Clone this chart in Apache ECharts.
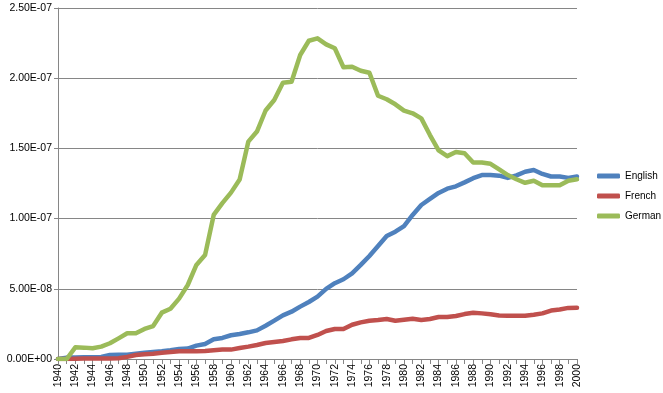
<!DOCTYPE html>
<html>
<head>
<meta charset="utf-8">
<script src="https://cdn.jsdelivr.net/npm/echarts@6/dist/echarts.min.js"></script>
<style>
  html, body { margin: 0; padding: 0; background: #fff; }
  #chart { width: 663px; height: 393px; }
</style>
</head>
<body>
<div id="chart"></div>
<script>
// 数据 (values in units of 1E-8)
var years = [];
for (var y = 1940; y <= 2000; y++) { years.push(String(y)); }

var english = [
    0, 0.1, 0.1, 0.12, 0.12, 0.14, 0.28, 0.3, 0.3, 0.38,
    0.45, 0.5, 0.55, 0.62, 0.71, 0.74, 0.95, 1.07, 1.4, 1.5,
    1.69, 1.78, 1.9, 2.04, 2.37, 2.73, 3.11, 3.37, 3.73, 4.06,
    4.44, 4.99, 5.4, 5.68, 6.1, 6.7, 7.34, 8.05, 8.76, 9.07,
    9.47, 10.26, 10.97, 11.4, 11.83, 12.13, 12.3, 12.58, 12.88, 13.1,
    13.1, 13.06, 12.9, 13.08, 13.34, 13.46, 13.18, 13.0, 13.0, 12.9,
    13.0
];
var french = [
    0, 0, 0.02, 0.03, 0.03, 0.03, 0.03, 0.05, 0.15, 0.28,
    0.33, 0.38, 0.45, 0.5, 0.55, 0.55, 0.55, 0.57, 0.62, 0.67,
    0.67, 0.78, 0.88, 1.0, 1.14, 1.21, 1.28, 1.4, 1.5, 1.5,
    1.71, 1.99, 2.14, 2.14, 2.44, 2.61, 2.73, 2.78, 2.85, 2.73,
    2.8, 2.86, 2.78, 2.85, 2.99, 2.99, 3.06, 3.2, 3.3, 3.25,
    3.18, 3.1, 3.08, 3.08, 3.08, 3.15, 3.25, 3.45, 3.52, 3.64,
    3.65
];
var german = [
    0, 0, 0.83, 0.81, 0.76, 0.88, 1.12, 1.47, 1.83, 1.83,
    2.14, 2.35, 3.3, 3.58, 4.3, 5.27, 6.7, 7.4, 10.26, 11.1,
    11.85, 12.78, 15.48, 16.2, 17.7, 18.45, 19.68, 19.75, 21.65, 22.67,
    22.84, 22.41, 22.13, 20.78, 20.82, 20.53, 20.39, 18.75, 18.5, 18.14,
    17.69, 17.5, 17.14, 15.95, 14.86, 14.45, 14.75, 14.65, 14.0, 14.0,
    13.9, 13.5, 13.1, 12.8, 12.55, 12.7, 12.37, 12.37, 12.37, 12.7,
    12.8
];
var unit = 1e-8;
var seriesNames = ['English', 'French', 'German'];
var seriesColors = ['#4F81BD', '#C0504D', '#9BBB59'];

function sci(v) {
    if (v === 0) return '0.00E+00';
    var e = Math.floor(Math.log10(Math.abs(v)) + 1e-9);
    var m = v / Math.pow(10, e);
    var sign = e < 0 ? '-' : '+';
    var ae = Math.abs(e);
    return m.toFixed(2) + 'E' + sign + (ae < 10 ? '0' + ae : ae);
}

function scaled(arr) {
    return arr.map(function (v) { return v * unit; });
}

var dom = document.getElementById('chart');
var myChart = echarts.init(dom);
var data = [english, french, german];

var option = {
    animation: false,
    color: seriesColors,
    textStyle: { fontFamily: 'Liberation Sans' },
    legend: {
        orient: 'vertical',
        left: 597,
        top: 171,
        padding: 0,
        itemWidth: 23,
        itemHeight: 5,
        itemGap: 10,
        icon: 'roundRect',
        textStyle: { fontSize: 10, color: '#000' },
        data: seriesNames
    },
    grid: { left: 58, right: 86, top: 8, bottom: 34 },
    xAxis: {
        type: 'category',
        boundaryGap: false,
        data: years,
        axisLine: { lineStyle: { color: '#868686', width: 1 } },
        axisTick: { interval: 0, length: 5, lineStyle: { color: '#868686' } },
        axisLabel: { interval: 1, rotate: 90, margin: 5, fontSize: 10.5, color: '#000' },
        splitLine: { show: false }
    },
    yAxis: {
        type: 'value',
        min: 0,
        max: 2.5e-7,
        interval: 5e-8,
        axisLine: { show: true, lineStyle: { color: '#868686', width: 1 } },
        axisTick: { show: true, length: 4, lineStyle: { color: '#868686' } },
        axisLabel: { formatter: sci, fontSize: 10.5, color: '#000', margin: 6 },
        splitLine: { lineStyle: { color: '#868686', width: 1 } }
    },
    series: seriesNames.map(function (name, i) {
        return {
            name: name,
            type: 'line',
            symbol: 'none',
            data: scaled(data[i]),
            lineStyle: { width: 4.5, cap: 'round', join: 'round' }
        };
    })
};

if (option && typeof option === "object") {
    myChart.setOption(option, true);
}
</script>
</body>
</html>
